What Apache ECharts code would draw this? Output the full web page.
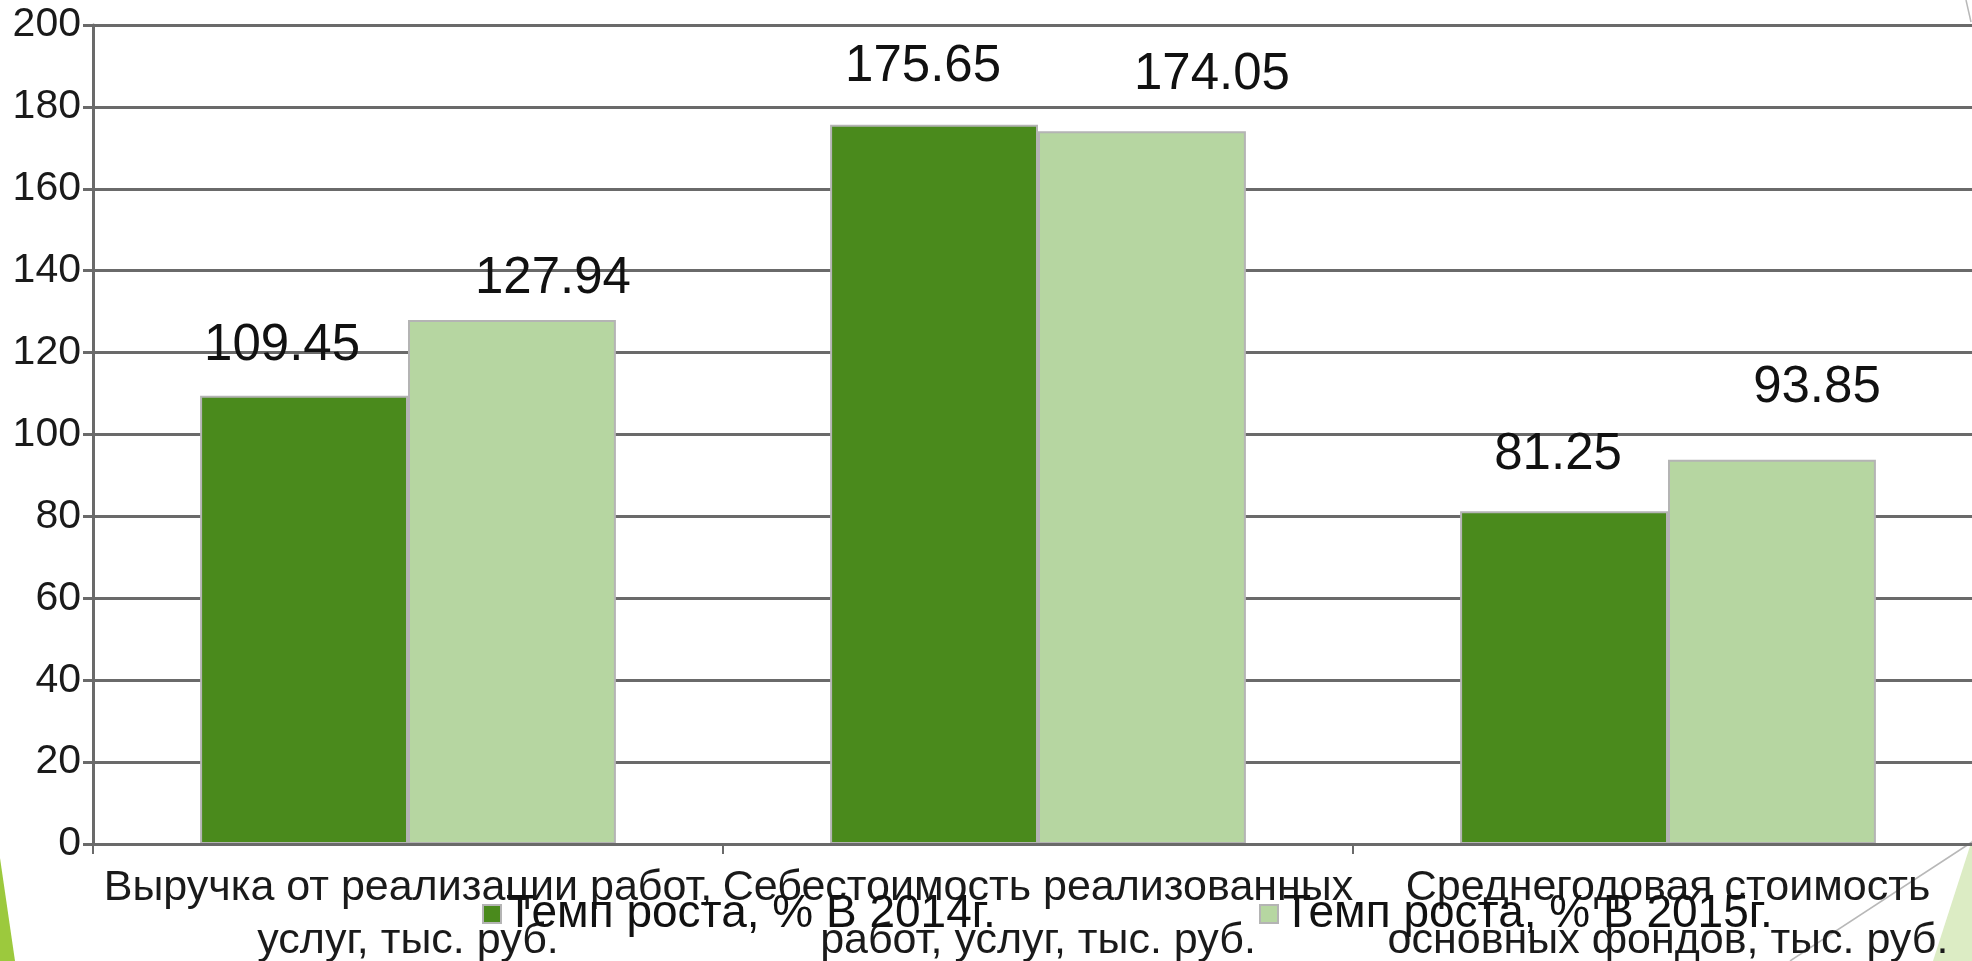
<!DOCTYPE html>
<html>
<head>
<meta charset="utf-8">
<script src="https://cdn.jsdelivr.net/npm/echarts@6/dist/echarts.min.js"></script>
<style>
html,body{margin:0;padding:0;background:#fff;}
#chart{width:1972px;height:961px;}
</style>
</head>
<body>
<div id="chart"></div>
<script>
const categories = [
  'Выручка от реализации работ,\nуслуг, тыс. руб.',
  'Себестоимость реализованных\nработ, услуг, тыс. руб.',
  'Среднегодовая стоимость\nосновных фондов, тыс. руб.'
];
const seriesNames = ['Темп роста, % В 2014г.', 'Темп роста, % В 2015г.'];
const values2014 = [109.45, 175.65, 81.25];
const values2015 = [127.94, 174.05, 93.85];
const yTicks = { min: 0, max: 200, interval: 20 };

// label nudges (styling only)
const labelNudge2014 = [[-22, 0], [-11, -8], [-6, -7]];
const labelNudge2015 = [[41, 8], [70, -7], [45, -22]];

const FONT = 'Liberation Sans';
const chart = echarts.init(document.getElementById('chart'), null, { renderer: 'canvas' });

function buildData(vals, nudges) {
  return vals.map((v, i) => ({ value: v, label: { offset: nudges[i] } }));
}

const labelStyle = {
  show: true,
  position: 'top',
  distance: 24,
  color: '#111',
  fontFamily: FONT,
  fontSize: 51,
  formatter: p => p.value.toFixed(2)
};

const legendText = { fontFamily: FONT, fontSize: 46, color: '#111' };

const option = {
  backgroundColor: '#ffffff',
  animation: false,
  grid: { left: 93, top: 25, width: 1890, height: 819, containLabel: false, outerBoundsMode: 'none' },
  legend: [
    { data: [seriesNames[0]], left: 477, top: 886, icon: 'rect', itemWidth: 18, itemHeight: 18, itemGap: 6, textStyle: legendText, z: 20 },
    { data: [seriesNames[1]], left: 1254, top: 886, icon: 'rect', itemWidth: 18, itemHeight: 18, itemGap: 6, textStyle: legendText, z: 20 }
  ],
  xAxis: {
    type: 'category',
    data: categories,
    z: 10,
    axisLine: { lineStyle: { color: '#6a6a6a', width: 3 } },
    axisTick: { show: true, length: 10, lineStyle: { color: '#6a6a6a', width: 2 } },
    axisLabel: { fontFamily: FONT, fontSize: 43, color: '#1a1a1a', lineHeight: 53, margin: 18, interval: 0 }
  },
  yAxis: {
    type: 'value',
    min: yTicks.min, max: yTicks.max, interval: yTicks.interval,
    axisLine: { show: true, lineStyle: { color: '#6a6a6a', width: 3 } },
    axisTick: { show: true, length: 10, lineStyle: { color: '#6a6a6a', width: 3 } },
    splitLine: { lineStyle: { color: '#6a6a6a', width: 3 } },
    axisLabel: { fontFamily: FONT, fontSize: 41, color: '#1a1a1a', margin: 12 }
  },
  series: [
    {
      name: seriesNames[0], type: 'bar', barGap: '0%', barCategoryGap: '34%',
      itemStyle: { color: '#4a8a1c', borderColor: '#b4b4b4', borderWidth: 2 },
      label: labelStyle,
      data: buildData(values2014, labelNudge2014)
    },
    {
      name: seriesNames[1], type: 'bar', barGap: '0%', barCategoryGap: '34%',
      itemStyle: { color: '#b6d6a1', borderColor: '#b4b4b4', borderWidth: 2 },
      label: labelStyle,
      data: buildData(values2015, labelNudge2015)
    }
  ],
  graphic: [
    { type: 'polygon', z: -1, shape: { points: [[0, 858], [15, 961], [0, 961]] }, style: { fill: '#9cc93d' } },
    { type: 'polygon', z: -1, shape: { points: [[1972, 840], [1972, 961], [1933, 961]] }, style: { fill: '#dcecc4' } },
    { type: 'line', z: -1, shape: { x1: 1972, y1: 842, x2: 1790, y2: 961 }, style: { stroke: '#b8b8b8', lineWidth: 1.5 } },
    { type: 'line', z: -1, shape: { x1: 1966, y1: 0, x2: 1971, y2: 22 }, style: { stroke: '#b8b8b8', lineWidth: 1.5 } }
  ]
};
chart.setOption(option);
</script>
</body>
</html>
